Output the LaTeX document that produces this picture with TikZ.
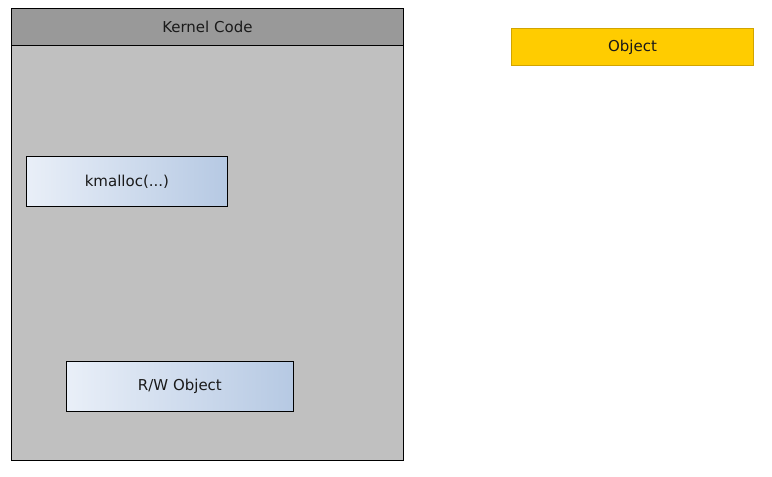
\documentclass[tikz,border=0pt]{standalone}
\usepackage{fontspec}
\setmainfont{DejaVu Sans}
\usetikzlibrary{positioning}
\definecolor{hdr}{HTML}{999999}
\definecolor{bdy}{HTML}{C0C0C0}
\definecolor{gl}{HTML}{E9EFF8}
\definecolor{gr}{HTML}{B6C9E3}
\definecolor{obj}{HTML}{FFCC00}
\definecolor{objd}{HTML}{D2A400}
\definecolor{txt}{HTML}{1A1A1A}
\tikzset{
  frame/.style = {rectangle, draw=black, fill=bdy, line width=0.8pt,
                  minimum width=392pt, minimum height=452pt,
                  inner sep=0pt, anchor=north west},
  hdrbar/.style= {rectangle, draw=black, fill=hdr, line width=0.8pt,
                  minimum width=392pt, minimum height=37pt,
                  inner sep=0pt, anchor=north west,
                  font=\fontsize{15}{17}\selectfont, text=txt},
  call/.style  = {rectangle, draw=black, left color=gl, right color=gr,
                  line width=0.8pt, minimum height=50pt,
                  inner sep=0pt, anchor=north west,
                  font=\fontsize{15}{17}\selectfont, text=txt},
  objbox/.style= {rectangle, draw=objd, fill=obj, line width=1pt,
                  minimum width=242pt, minimum height=37pt,
                  inner sep=0pt, anchor=north west,
                  font=\fontsize{15}{17}\selectfont, text=txt},
}
\begin{document}
\begin{tikzpicture}[x=1pt, y=-1pt]
  \useasboundingbox (0,0) rectangle (772,477);

  % -- kernel side
  \node[frame]  (kernel) at (11,8) {};
  \node[hdrbar] (title)  at (11,8) {Kernel Code};
  \node[call, minimum width=201pt] (kmalloc) at (26,156) {kmalloc(...)};
  \node[call, minimum width=227pt] (rwobj)   at (66,361) {R/W Object};

  % -- heap object
  \node[objbox] (object) at (511,28) {Object};

\end{tikzpicture}
\end{document}
